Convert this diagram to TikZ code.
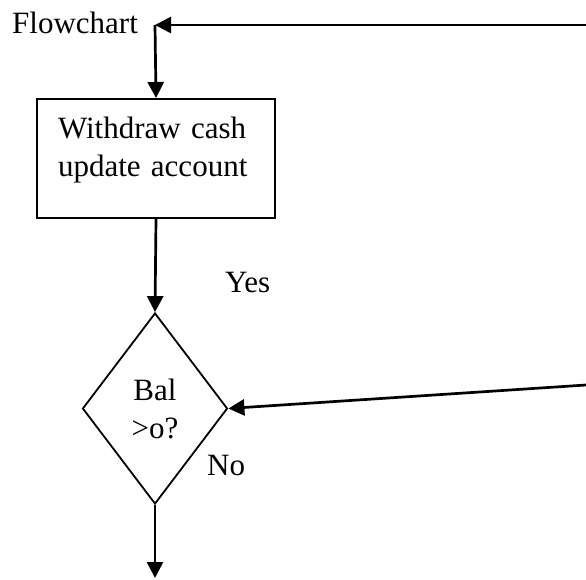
\documentclass[tikz,border=0pt]{standalone}
\usepackage{fontspec}
\setmainfont{Liberation Serif}
\usetikzlibrary{shapes.geometric, arrows.meta, calc}

\begin{document}
\begin{tikzpicture}[x=1pt, y=-1pt, every node/.style={font=\fontsize{31}{38}\selectfont}]
% Styles
\tikzstyle{process} = [rectangle, anchor=north west, minimum width=238pt, minimum height=119pt, text width=196pt, align=left, draw=black, line width=2pt, inner xsep=21pt, inner ysep=10pt, text height=29pt, text depth=70pt]
\tikzstyle{decision} = [diamond, minimum width=145pt, minimum height=191pt, align=center, draw=black, line width=1.8pt, inner sep=0pt]
\tikzstyle{plain_text} = [anchor=base west, inner sep=0pt]
\tikzstyle{arrow} = [line width=2.7pt, -{Triangle[length=16pt, width=16pt]}]

\useasboundingbox (0,0) rectangle (586,579);

\node (title) [plain_text] at (12,33) {Flowchart};
\coordinate (top_edge) at (586,25);
\coordinate (top_corner) at (155,25);
\node (withdraw_cash) [process] at (36,98) {Withdraw cash\\update account};
\node (bal_check) [decision] at (155,408.5) {Bal\\>o?};
\node (yes_text) [plain_text] at (225,292) {Yes};
\node (no_text) [plain_text] at (207,475) {No};
\coordinate (right_edge) at (586,385);
\coordinate (exit) at (155,578);

\draw [arrow] (top_edge) -- (top_corner);
\draw [arrow] (top_corner) -- (withdraw_cash.north);
\draw [arrow] (withdraw_cash.south) -- (bal_check.north);
\draw [arrow] (right_edge) -- (bal_check.east);
\draw [arrow] (bal_check.south) -- (exit);

\end{tikzpicture}
\end{document}
